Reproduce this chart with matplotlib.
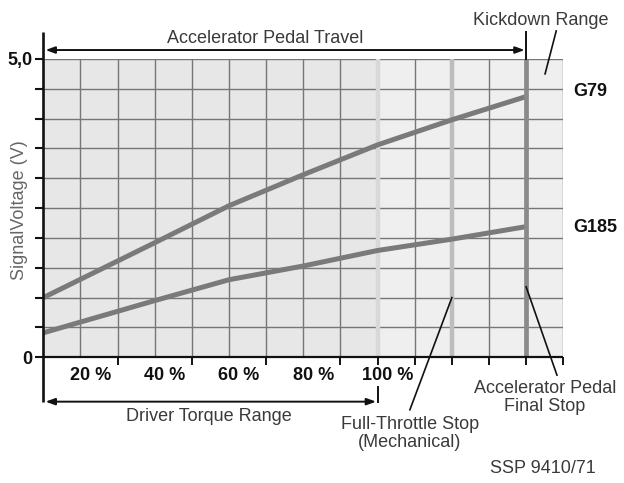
import numpy as np
import matplotlib
matplotlib.use("Agg")
import matplotlib.pyplot as plt
from matplotlib.patches import FancyArrowPatch

plt.rcParams['font.family'] = ['Liberation Sans', 'DejaVu Sans']

# Pedal position in grid divisions (9 divisions = 100 % driver torque range)
g79_pos = [0, 3, 5, 7, 9, 11, 13]
g79_volts = [1.00, 1.92, 2.54, 3.06, 3.56, 3.98, 4.37]
g185_pos = [0, 3, 5, 7, 9, 11, 13]
g185_volts = [0.41, 0.95, 1.30, 1.53, 1.79, 1.98, 2.19]

torque_labels = ['20 %', '40 %', '60 %', '80 %', '100 %']
torque_label_pos = [1, 3, 5, 7, 9]

y_ticks = [0.0, 0.5, 1.0, 1.5, 2.0, 2.5, 3.0, 3.5, 4.0, 4.5, 5.0]
y_tick_labels = ['0', '', '', '', '', '', '', '', '', '', '5,0']
x_ticks_bottom = [2, 4, 6, 8, 9, 10, 11, 12, 13, 14]

TORQUE_END = 9
FULL_THROTTLE = 11
FINAL_STOP = 13
X_MAX = 14
V_MAX = 5.0

INK = '#111111'
TXT = '#3a3a3a'
GRID = '#767676'

fig = plt.figure(figsize=(6.24, 4.83), dpi=100)
ax = fig.add_axes([0.0694, 0.2603, 0.8333, 0.6176])
ax.set_xlim(0, X_MAX)
ax.set_ylim(0, V_MAX)
ax.set_facecolor('none')
for s in ax.spines.values():
    s.set_visible(False)

# shaded plot field: driver torque range darker, remaining travel lighter
ax.axvspan(0, TORQUE_END, color='#e7e7e7', zorder=0, lw=0)
ax.axvspan(TORQUE_END, X_MAX, color='#efefef', zorder=0, lw=0)

# grid
for v in y_ticks[1:]:
    ax.plot([0, X_MAX], [v, v], color=GRID, lw=1.0, zorder=1)
for x in range(1, X_MAX + 1):
    if x in (TORQUE_END, FULL_THROTTLE, FINAL_STOP):
        continue
    ax.plot([x, x], [0, V_MAX], color=GRID, lw=1.0, zorder=1)

# stop markers
ax.plot([TORQUE_END] * 2, [0, V_MAX], color='#d8d8d8', lw=3.2,
        solid_capstyle='butt', zorder=2)
ax.plot([FULL_THROTTLE] * 2, [0, V_MAX], color='#bdbdbd', lw=3.2,
        solid_capstyle='butt', zorder=2)

# sensor curves
ax.plot(g79_pos, g79_volts, color='#7a7a7a', lw=3.6,
        solid_capstyle='butt', solid_joinstyle='round', zorder=3)
ax.plot(g185_pos, g185_volts, color='#7a7a7a', lw=3.6,
        solid_capstyle='butt', solid_joinstyle='round', zorder=3)

ax.plot([FINAL_STOP] * 2, [0, V_MAX], color='#8a8a8a', lw=3.4,
        solid_capstyle='butt', zorder=4)

# axes lines
ax.plot([0, 0], [-0.75, 5.45], color=INK, lw=1.9, clip_on=False,
        solid_capstyle='butt', zorder=5)
ax.plot([0, X_MAX], [0, 0], color=INK, lw=1.6, clip_on=False,
        solid_capstyle='butt', zorder=5)

ax.set_yticks(y_ticks)
ax.set_yticklabels(y_tick_labels, fontsize=13, fontweight='bold', color=INK)
ax.tick_params(axis='y', direction='out', length=6, width=1.5, pad=2,
               color=INK)
ax.set_xticks(x_ticks_bottom)
ax.set_xticklabels([])
ax.tick_params(axis='x', direction='out', length=6, width=1.4, color=INK)

for lbl, p in zip(torque_labels, torque_label_pos):
    ax.text(p + 0.27, -0.30, lbl, ha='center', va='center', fontsize=13,
            fontweight='bold', color=INK, clip_on=False)

ax.text(-0.65, 2.47, 'SignalVoltage (V)', rotation=90, ha='center',
        va='center', fontsize=13, color='#666666', clip_on=False)


def dim_arrow(x0, x1, y):
    ax.add_patch(FancyArrowPatch(
        (x0, y), (x1, y),
        arrowstyle='<|-|>,head_length=0.55,head_width=0.2',
        mutation_scale=10, lw=1.4, color=INK, clip_on=False,
        shrinkA=0, shrinkB=0, zorder=6))


def leader(p0, p1):
    ax.plot([p0[0], p1[0]], [p0[1], p1[1]], color=INK, lw=1.2,
            clip_on=False, zorder=6)


# accelerator pedal travel
dim_arrow(0.06, FINAL_STOP - 0.04, 5.15)
ax.plot([FINAL_STOP] * 2, [V_MAX, 5.45], color=INK, lw=1.4,
        clip_on=False, zorder=6)
ax.text(5.98, 5.35, 'Accelerator Pedal Travel', ha='center', va='center',
        fontsize=13, color=TXT, clip_on=False)

# kickdown range
ax.text(13.4, 5.65, 'Kickdown Range', ha='center', va='center',
        fontsize=13, color=TXT, clip_on=False)
leader((13.81, 5.47), (13.51, 4.75))

# driver torque range
dim_arrow(0.06, TORQUE_END - 0.04, -0.744)
ax.plot([TORQUE_END] * 2, [-0.50, -0.744], color=INK, lw=1.4,
        clip_on=False, zorder=6)
ax.text(4.46, -1.0, 'Driver Torque Range', ha='center', va='center',
        fontsize=13, color=TXT, clip_on=False)

# sensor names
ax.text(14.26, 4.45, 'G79', ha='left', va='center', fontsize=13,
        fontweight='bold', color=INK, clip_on=False)
ax.text(14.26, 2.18, 'G185', ha='left', va='center', fontsize=13,
        fontweight='bold', color=INK, clip_on=False)

# stop callouts
ax.text(9.87, -1.28, 'Full-Throttle Stop\n(Mechanical)', ha='center',
        va='center', fontsize=13, color=TXT, linespacing=1.1, clip_on=False)
leader((FULL_THROTTLE, 1.0), (9.87, -0.88))

ax.text(13.51, -0.68, 'Accelerator Pedal\nFinal Stop', ha='center',
        va='center', fontsize=13, color=TXT, linespacing=1.1, clip_on=False)
leader((FINAL_STOP, 1.18), (13.83, -0.30))

ax.text(13.45, -1.87, 'SSP 9410/71', ha='center', va='center',
        fontsize=13, color=TXT, clip_on=False)

fig.savefig('out.png', dpi=100)
